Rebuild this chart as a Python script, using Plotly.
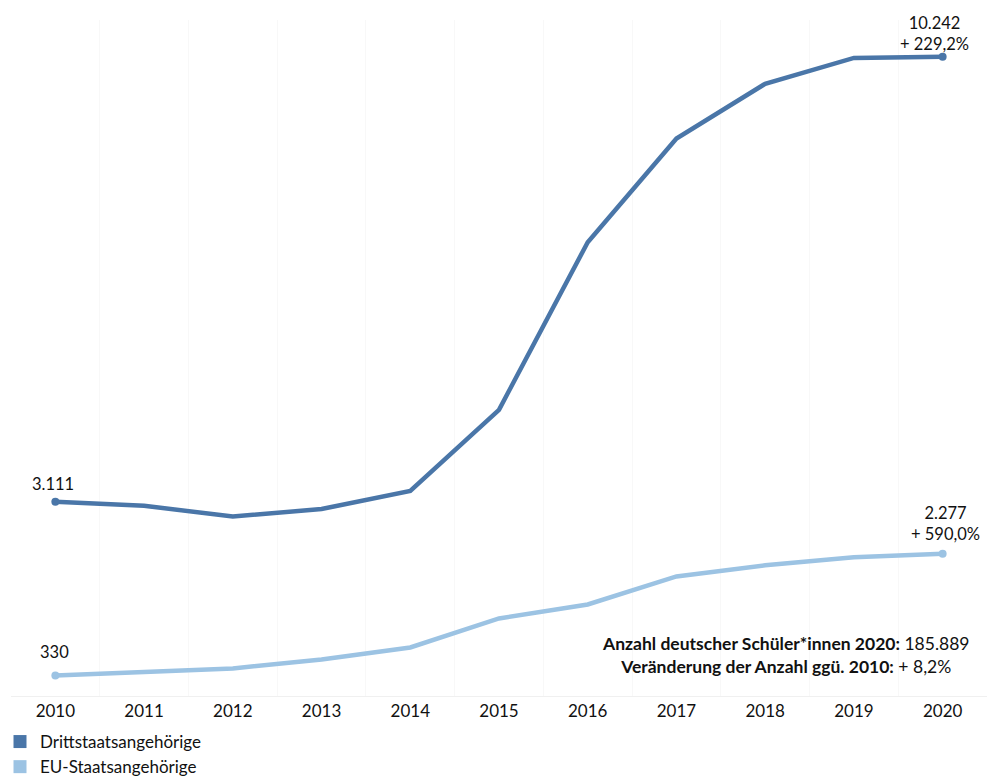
import plotly.graph_objects as go

years = [2010, 2011, 2012, 2013, 2014, 2015, 2016, 2017, 2018, 2019, 2020]
dritt = [3111, 3047, 2875, 2995, 3285, 4585, 7270, 8930, 9808, 10222, 10242]
eu = [330, 378, 442, 586, 778, 1243, 1467, 1916, 2093, 2221, 2277]
dritt_change = "+ 229,2%"
eu_change = "+ 590,0%"
name_dritt = "Drittstaatsangehörige"
name_eu = "EU-Staatsangehörige"
note_lines = [("Anzahl deutscher Schüler*innen 2020:", "185.889"),
              ("Veränderung der Anzahl ggü. 2010:", "+ 8,2%")]

c_dark = "#4a76a8"
c_light = "#9cc3e3"
FONT = "Lato"

def fmt(v):
    return f"{v:,}".replace(",", ".")

fig = go.Figure()
for vals, col in [(dritt, c_dark), (eu, c_light)]:
    fig.add_trace(go.Scatter(x=years, y=vals, mode="lines", line=dict(color=col, width=4.5),
                             showlegend=False, hoverinfo="skip"))
    fig.add_trace(go.Scatter(x=[years[0], years[-1]], y=[vals[0], vals[-1]], mode="markers",
                             marker=dict(color=col, size=8), showlegend=False, hoverinfo="skip"))

for nm, col in [(name_dritt, c_dark), (name_eu, c_light)]:
    fig.add_trace(go.Scatter(x=[None], y=[None], mode="markers", name=nm,
                             marker=dict(color=col, size=13, symbol="square")))

lab = dict(size=16.5, color="#111")
ann = []
ann.append(dict(x=years[0], y=dritt[0], text=fmt(dritt[0]), showarrow=False, yshift=18, xshift=-2,
                xanchor="center", font=lab))
ann.append(dict(x=years[0], y=eu[0], text=fmt(eu[0]), showarrow=False, yshift=23, xshift=-1,
                xanchor="center", font=lab))
ann.append(dict(x=years[-1], y=dritt[-1], text=fmt(dritt[-1]) + "<br>" + dritt_change, showarrow=False,
                yshift=1, xshift=-8, xanchor="center", yanchor="bottom", align="center", font=lab))
ann.append(dict(x=years[-1], y=eu[-1], text=fmt(eu[-1]) + "<br>" + eu_change, showarrow=False,
                yshift=8, xshift=3, xanchor="center", yanchor="bottom", align="center", font=lab))
note = "<br>".join(f"<b>{a}</b> {b}" for a, b in note_lines)
ann.append(dict(xref="paper", yref="paper", x=(786 - 11) / 976, y=(696 - 655) / 676, text=note,
                showarrow=False, xanchor="center", yanchor="middle", align="center",
                font=dict(size=17.5, color="#111")))

fig.update_layout(
    width=987, height=776,
    margin=dict(l=11, r=0, t=20, b=80, autoexpand=False),
    paper_bgcolor="white", plot_bgcolor="white",
    font=dict(family=FONT, size=16, color="#111"),
    xaxis=dict(range=[2009.5, 2020.5], tickmode="array", tickvals=years, ticktext=[str(y) for y in years],
               showgrid=False, zeroline=False, showline=True, linecolor="#f0f0f0", linewidth=1,
               ticks="", ticklen=0, tickfont=dict(size=17, color="#111"),
               minor=dict(tick0=2009.5, dtick=1, showgrid=True, gridcolor="#f8f8f8", gridwidth=1)),
    yaxis=dict(range=[0, 10830], visible=False, showgrid=False, zeroline=False),
    annotations=ann,
    showlegend=True,
    legend=dict(xref="container", yref="container", x=0, y=1 - 724 / 776, xanchor="left", yanchor="top",
                orientation="v", font=dict(size=17, color="#111"), itemwidth=30,
                bgcolor="rgba(0,0,0,0)", tracegroupgap=0),
)

fig.write_html("out.html")
